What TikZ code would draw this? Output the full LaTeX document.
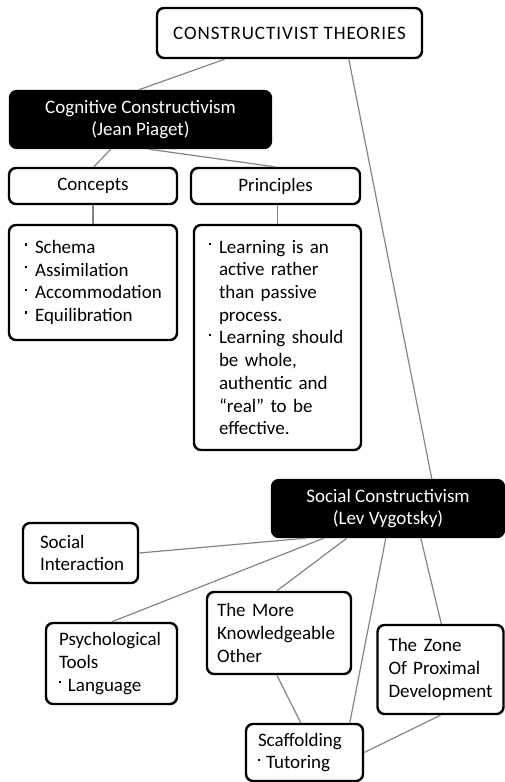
\documentclass[tikz,border=0pt]{standalone}
\usepackage{fontspec}
\setmainfont{Carlito}
\usetikzlibrary{calc}
% small raised square bullet followed by its gap
\newcommand{\bdot}[1][10pt]{\makebox[#1][l]{\raisebox{8pt}{\rule{2.2pt}{2.2pt}}}}
\newcommand{\hang}{\hspace*{10pt}}
\tikzset{
  box/.style={draw=black, line width=2.4pt, rounded corners=7pt, fill=white,
    font=\fontsize{19}{22.7}\selectfont, inner ysep=0pt},
  darkbox/.style={box, fill=black, text=white},
  link/.style={draw=black!48, line width=1.2pt},
}
\begin{document}
\begin{tikzpicture}[x=1pt,y=-1pt]
\useasboundingbox (0,0) rectangle (505,782);
\fill[white] (0,0) rectangle (505,782);

% top level
\node[box, minimum width=265pt, minimum height=50pt, align=center] (ct) at (289.5,33)
  {\addfontfeature{LetterSpace=5}CONSTRUCTIVIST THEORIES};

% Piaget branch
\node[darkbox, minimum width=261pt, minimum height=57pt, align=center] (cog) at (140.5,119.5) {Cognitive Constructivism\\(Jean Piaget)};
\node[box, minimum width=168pt, minimum height=36pt, align=center] (concepts) at (93,186) {Concepts};
\node[box, minimum width=169pt, minimum height=36pt, align=center] (principles) at (275.5,186) {Principles};
\node[box, minimum height=115pt, inner xsep=16pt, text width=136pt, align=left] (clist) at (93,282.5)
  {\bdot Schema\\\bdot Assimilation\\\bdot Accommodation\\\bdot Equilibration};
\node[box, minimum height=225pt, inner xsep=15pt, text width=137pt, align=left] (plist) at (277.5,337.5)
  {\bdot Learning is an\\\hang active rather\\\hang than passive\\\hang process.\\\bdot Learning should\\\hang be whole,\\\hang authentic and\\\hang ``real'' to be\\\hang effective.};

% Vygotsky branch
\node[darkbox, minimum width=232pt, minimum height=57pt, align=center] (soc) at (388,508.5) {Social Constructivism\\(Lev Vygotsky)};
\node[box, minimum height=60pt, inner xsep=17pt, text width=81pt, align=left] (si) at (80.5,553) {Social\\Interaction};
\node[box, minimum height=81pt, inner xsep=13pt, text width=105pt, align=left] (psy) at (111.5,663.5) {Psychological\\Tools\\\bdot[9pt]Language};
\node[box, minimum height=82pt, inner xsep=10pt, text width=124pt, align=left] (mko) at (279,633) {The More\\Knowledgeable\\Other};
\node[box, minimum height=89pt, inner xsep=11pt, text width=104pt, align=left] (zpd) at (440.5,669.5) {The Zone\\Of Proximal\\Development};
\node[box, minimum height=57pt, inner xsep=12pt, text width=93pt, align=left] (sca) at (304.5,752.5) {Scaffolding\\\bdot[8pt]Tutoring};

% connectors between the boxes
\draw[link] ([xshift=69pt]ct.south west) -- ([xshift=130pt]cog.north west);
\draw[link] ([xshift=193pt]ct.south west) -- ([xshift=161pt]soc.north west);
\draw[link] ([xshift=102pt]cog.south west) -- ([xshift=86pt]concepts.north west);
\draw[link] ([xshift=140pt]cog.south west) -- ([xshift=85pt]principles.north west);
\draw[link] (concepts.south) -- (clist.north);
\draw[link] (plist.north |- principles.south) -- (plist.north);
\draw[link] ([xshift=35pt]soc.south west) -- (si.east);
\draw[link] ([xshift=53pt]soc.south west) -- ([xshift=67pt]psy.north west);
\draw[link] ([xshift=76pt]soc.south west) -- ([xshift=71pt]mko.north west);
\draw[link] ([xshift=115pt]soc.south west) -- ([xshift=105pt]sca.north west);
\draw[link] ([xshift=150pt]soc.south west) -- ([xshift=65pt]zpd.north west);
\draw[link] ([xshift=71pt]mko.south west) -- ([xshift=56pt]sca.north west);
\draw[link] (zpd.south) -- (sca.east);
\end{tikzpicture}
\end{document}
